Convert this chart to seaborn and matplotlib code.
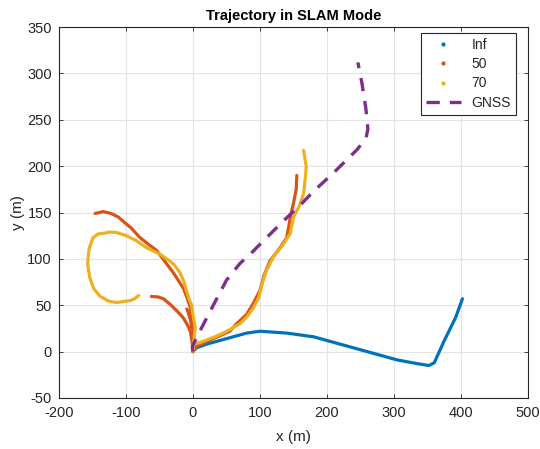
import numpy as np
import pandas as pd
import matplotlib
matplotlib.use("Agg")
import matplotlib.pyplot as plt
import seaborn as sns
from matplotlib.lines import Line2D

# trajectory with no map window (Inf)
inf_x = [0, 5, 20, 40, 60, 80, 100, 120, 140, 160, 180, 205, 235, 270, 305, 335, 352, 360, 375, 392, 402]
inf_y = [0, 4, 8, 12, 16, 20, 22, 21, 20, 18, 16, 11, 5, -2, -9, -13, -15, -12, 12, 37, 57]

# window 50: three pieces
w50_a_x = [-146, -134, -122, -111, -100, -93, -79, -65, -54, -39, -30, -21.5, -14, -9, -4, -1.5, 1, 0,
           0, 6, 15, 30, 40, 55, 65, 80, 90, 100, 106, 115, 128, 140, 143, 146, 150, 154, 155]
w50_a_y = [149, 151, 149, 145, 138, 134, 123, 115, 109, 94.5, 86, 76.5, 68, 58.5, 48, 37, 12, 0,
           2, 6, 9, 14, 17, 22, 30, 40, 52, 66, 82, 98, 110, 123, 135, 148, 160, 175, 190]
w50_b_x = [-62, -52, -44, -34, -24, -15, -9, -4, -1.5, 0]
w50_b_y = [59.5, 59, 57, 51, 44, 37, 30, 22, 12, 2]
w50_c_x = [-9, -6, -3, -2]
w50_c_y = [46, 40, 32, 26]

# window 70
w70_x = [-81, -87, -94, -104, -114, -126, -139, -148, -154, -157, -156, -154.5, -149, -141, -134, -124,
         -114, -99, -84, -69, -59, -49, -37, -29, -20, -14, -6.5, -2, 0, 3.4, 1, 0,
         1, 11, 22, 36, 48, 60, 70, 80, 90, 98, 104, 110, 120, 133, 145, 150, 158, 165, 168, 169, 165]
w70_y = [60.5, 57, 55, 54, 53, 54.5, 60, 68, 80, 94.5, 105, 112, 123, 127, 127.5, 129,
         128.5, 125, 119.5, 112, 108.5, 105, 99, 94.5, 86, 76.5, 58.5, 50, 40.5, 26, 8, 1,
         8, 10, 13, 17, 21, 26, 30, 37, 47, 58, 75, 88, 102, 114, 127, 145, 156, 170, 190, 200, 217]

# GNSS reference
gnss_x = [0, -1, 2, 11, 26, 50, 70, 88, 110, 135, 160, 180, 210, 245, 258, 261, 258, 252, 246]
gnss_y = [0, 5, 10, 23, 44, 77, 95, 107, 123, 141, 158, 173, 193, 218, 230, 240, 262, 290, 312]

c_inf = "#0072BD"
c_50 = "#D95319"
c_70 = "#EDB120"
c_gnss = "#7E2F8E"

sns.set_theme(style="whitegrid")
plt.rcParams['font.family'] = ['Liberation Sans', 'DejaVu Sans']
plt.rcParams['axes.unicode_minus'] = False

fig = plt.figure(figsize=(5.4, 4.49), dpi=100)
ax = fig.add_axes([0.109, 0.1136, 0.869, 0.826])

def draw(xs, ys, color, **kw):
    df = pd.DataFrame({'x': xs, 'y': ys})
    sns.lineplot(data=df, x='x', y='y', sort=False, estimator=None, color=color,
                 lw=2.3, ax=ax, **kw)

draw(inf_x, inf_y, c_inf)
draw(w50_a_x, w50_a_y, c_50)
draw(w50_b_x, w50_b_y, c_50)
draw(w50_c_x, w50_c_y, c_50)
draw(w70_x, w70_y, c_70)
gdf = pd.DataFrame({'x': gnss_x, 'y': gnss_y})
sns.lineplot(data=gdf, x='x', y='y', sort=False, estimator=None, color=c_gnss,
             lw=2.4, ax=ax)
ax.lines[-1].set_dashes((4, 3))

ax.set_xlim(-200, 500)
ax.set_ylim(-50, 350)
ax.set_xticks(np.arange(-200, 501, 100))
ax.set_yticks(np.arange(-50, 351, 50))
ax.set_facecolor("white")
ax.grid(True, color="#e3e3e3", lw=0.8)
for s in ax.spines.values():
    s.set_color("#262626")
    s.set_linewidth(0.8)
    s.set_visible(True)
ax.tick_params(direction='in', length=3, width=0.6, color='#262626', labelsize=10.5,
               labelcolor='#262626', top=True, right=True, bottom=True, left=True)
ax.tick_params(axis='x', pad=6)
ax.tick_params(axis='y', pad=5)

ax.set_title('Trajectory in SLAM Mode', fontsize=10.5, fontweight='bold', color='black', pad=5)
ax.set_xlabel('x (m)', fontsize=11, color='#262626', labelpad=7)
ax.set_ylabel('y (m)', fontsize=11, color='#262626', labelpad=2)

handles = [
    Line2D([], [], ls='none', marker='.', ms=4, color=c_inf),
    Line2D([], [], ls='none', marker='.', ms=4, color=c_50),
    Line2D([], [], ls='none', marker='.', ms=4, color=c_70),
    Line2D([], [], color=c_gnss, lw=2.4, dashes=(4, 3)),
]
leg = ax.legend(handles, ['Inf', '50', '70', 'GNSS'], loc='upper right',
                bbox_to_anchor=(0.974, 0.984), borderaxespad=0, fontsize=10,
                frameon=True, fancybox=False, edgecolor='#262626', framealpha=1,
                handlelength=2.5, labelspacing=0.38, borderpad=0.35)
leg.get_frame().set_linewidth(0.8)

fig.savefig('out.png', dpi=100)
